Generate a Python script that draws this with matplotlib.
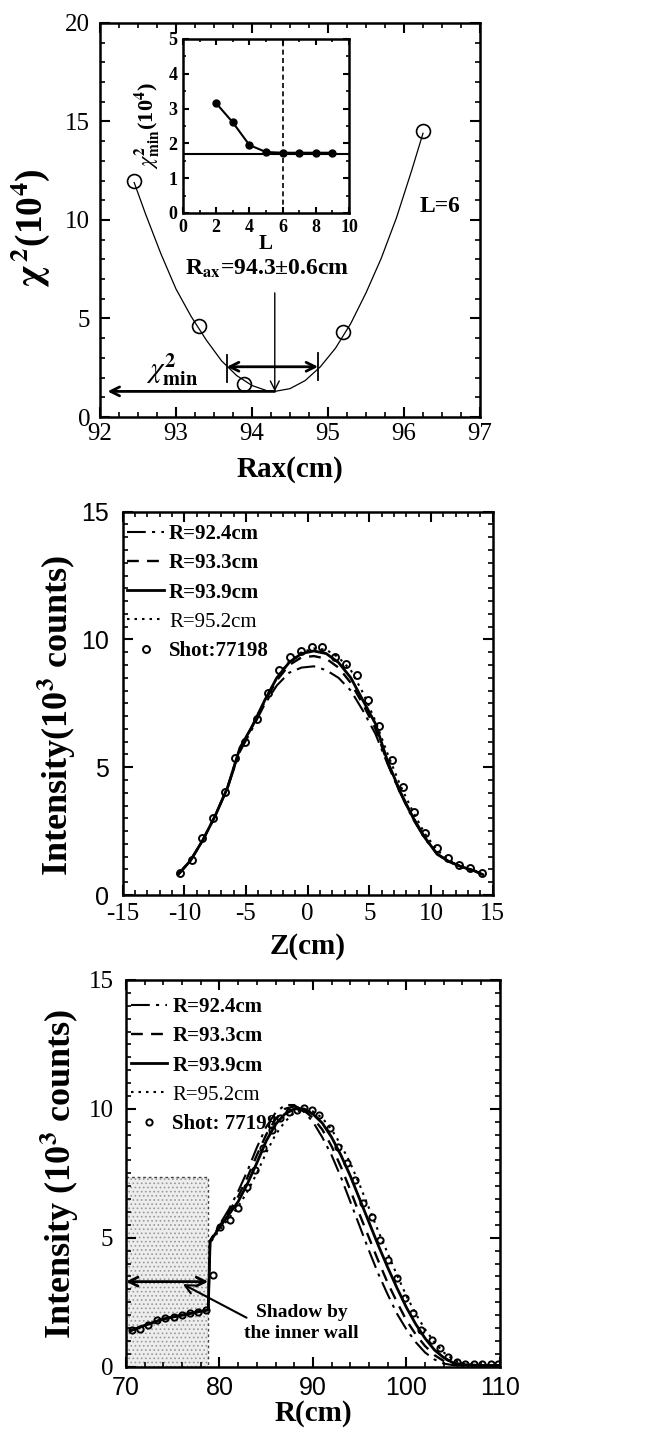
import matplotlib
matplotlib.use('Agg')
import matplotlib.pyplot as plt
from matplotlib.ticker import MultipleLocator
from matplotlib.patches import Rectangle

plt.rcParams['font.family'] = ['Liberation Serif', 'DejaVu Serif']
plt.rcParams['mathtext.fontset'] = 'stix'
plt.rcParams['axes.linewidth'] = 1.8
plt.rcParams['axes.unicode_minus'] = False
plt.rcParams['hatch.linewidth'] = 0.7

###############################################################################
# DATA
###############################################################################

# Top panel: chi-square scan over the magnetic axis position
RAX_SCAN = [92.45, 93.3, 93.9, 95.2, 96.25]
CHI2_SCAN = [12.0, 4.6, 1.7, 4.3, 14.5]
RAX_FIT = [92.45, 92.6, 92.8, 93.0, 93.2, 93.4, 93.6, 93.8, 94.0, 94.2, 94.3,
           94.5, 94.7, 94.9, 95.1, 95.3, 95.5, 95.7, 95.9, 96.1, 96.25]
CHI2_FIT = [11.9, 10.3, 8.3, 6.5, 5.1, 3.9, 2.85, 2.1, 1.6, 1.33, 1.3,
            1.44, 1.85, 2.55, 3.5, 4.75, 6.3, 8.05, 10.1, 12.5, 14.4]
RAX_BEST = 94.3
RAX_LO, RAX_HI = 93.67, 94.87
CHI2_MIN = 1.3

# Inset: minimum chi-square against number of terms L
L_TERMS = [2, 3, 4, 5, 6, 7, 8, 9]
CHI2_MIN_L = [3.15, 2.6, 1.95, 1.75, 1.73, 1.73, 1.73, 1.73]
CHI2_FLOOR = 1.7
L_CHOSEN = 6

# Legend labels shared by the two profile panels
FIT_LABELS = ['R=92.4cm', 'R=93.3cm', 'R=93.9cm', 'R=95.2cm']

# Middle panel: vertical profile
Z_DATA = [-10.35, -9.4, -8.6, -7.65, -6.7, -5.9, -5.08, -4.14, -3.2, -2.3,
          -1.43, -0.54, 0.38, 1.2, 2.2, 3.1, 4.0, 4.9, 5.8, 6.8, 7.7, 8.6,
          9.5, 10.5, 11.4, 12.3, 13.2, 14.1]
IZ_DATA = [0.85, 1.37, 2.22, 3.0, 4.04, 5.35, 6.0, 6.9, 7.9, 8.8, 9.33, 9.53,
           9.72, 9.69, 9.33, 9.05, 8.6, 7.63, 6.6, 5.3, 4.24, 3.26, 2.41,
           1.83, 1.43, 1.17, 1.04, 0.85]
Z_FIT = [-10.5, -9.5, -8.5, -7.5, -6.5, -5.5, -4.5, -3.5, -2.5, -1.5, -0.5,
         0.5, 1.5, 2.5, 3.5, 4.5, 5.5, 6.5, 7.5, 8.5, 9.5, 10.5, 11.5, 12.5,
         13.5, 14.2]
IZ_924 = [0.8, 1.35, 2.15, 3.1, 4.2, 5.6, 6.5, 7.45, 8.2, 8.7, 8.9, 8.95,
          8.8, 8.5, 8.0, 7.2, 6.3, 5.1, 4.0, 3.0, 2.2, 1.6, 1.3, 1.1, 0.95, 0.8]
IZ_933 = [0.8, 1.35, 2.15, 3.1, 4.2, 5.7, 6.6, 7.55, 8.4, 9.0, 9.3, 9.35,
          9.25, 8.9, 8.3, 7.45, 6.5, 5.15, 4.0, 3.05, 2.25, 1.6, 1.3, 1.1,
          0.95, 0.8]
IZ_939 = [0.8, 1.35, 2.15, 3.1, 4.2, 5.75, 6.6, 7.6, 8.5, 9.1, 9.45, 9.55,
          9.45, 9.1, 8.5, 7.6, 6.7, 5.2, 4.05, 3.07, 2.25, 1.6, 1.3, 1.1,
          0.95, 0.8]
IZ_952 = [0.8, 1.35, 2.15, 3.1, 4.2, 5.75, 6.6, 7.6, 8.5, 9.15, 9.5, 9.65,
          9.6, 9.3, 8.8, 7.9, 6.8, 5.5, 4.3, 3.3, 2.4, 1.75, 1.35, 1.1, 0.95,
          0.8]

# Bottom panel: radial profile
R_DATA = [70.6, 71.5, 72.4, 73.3, 74.2, 75.1, 76.0, 76.8, 77.7, 78.6, 79.3,
          80.05, 81.1, 82.0, 82.9, 83.8, 84.7, 85.6, 86.5, 87.4, 88.3, 89.1,
          89.9, 90.7, 91.8, 92.7, 93.6, 94.5, 95.4, 96.3, 97.2, 98.05, 98.95,
          99.8, 100.7, 101.6, 102.7, 103.6, 104.5, 105.4, 106.3, 107.2, 108.1,
          109.0, 109.8]
IR_DATA = [1.42, 1.47, 1.62, 1.81, 1.88, 1.94, 2.0, 2.07, 2.13, 2.2, 3.56,
           5.43, 5.69, 6.14, 6.98, 7.63, 8.47, 9.18, 9.63, 9.89, 9.96, 10.05,
           9.96, 9.76, 9.25, 8.53, 7.89, 7.24, 6.34, 5.82, 4.91, 4.14, 3.43,
           2.65, 2.07, 1.42, 1.04, 0.71, 0.39, 0.19, 0.1, 0.1, 0.1, 0.1, 0.1]
R_FIT = [70.5, 72, 74, 76, 78, 78.8, 79.0, 80, 81, 82, 83, 84, 85, 86, 87, 88,
         89, 90, 91, 92, 93, 94, 95, 96, 97, 98, 99, 100, 101, 102, 103, 104,
         105, 106, 108, 110]
IR_924 = [1.4, 1.6, 1.85, 2.0, 2.15, 2.2, 4.9, 5.5, 6.1, 6.8, 7.6, 8.5, 9.3,
          9.85, 10.15, 10.15, 9.9, 9.5, 8.9, 8.2, 7.35, 6.4, 5.45, 4.5, 3.6,
          2.8, 2.05, 1.45, 0.95, 0.55, 0.28, 0.12, 0.06, 0.05, 0.05, 0.05]
IR_933 = [1.4, 1.6, 1.85, 2.0, 2.15, 2.2, 4.85, 5.45, 6.0, 6.6, 7.35, 8.2,
          9.0, 9.6, 10.0, 10.1, 9.95, 9.65, 9.2, 8.55, 7.75, 6.85, 5.9, 5.0,
          4.1, 3.25, 2.5, 1.8, 1.25, 0.8, 0.45, 0.22, 0.1, 0.06, 0.05, 0.05]
IR_939 = [1.4, 1.6, 1.85, 2.0, 2.15, 2.2, 4.85, 5.4, 5.9, 6.4, 7.1, 7.9,
          8.75, 9.4, 9.8, 10.0, 10.0, 9.8, 9.45, 8.9, 8.2, 7.4, 6.5, 5.6, 4.7,
          3.85, 3.05, 2.3, 1.65, 1.1, 0.65, 0.35, 0.15, 0.08, 0.05, 0.05]
IR_952 = [1.4, 1.6, 1.85, 2.0, 2.15, 2.2, 4.8, 5.3, 5.75, 6.2, 6.8, 7.5, 8.3,
          9.0, 9.5, 9.85, 10.0, 9.9, 9.65, 9.2, 8.6, 7.9, 7.05, 6.15, 5.25,
          4.4, 3.55, 2.75, 2.05, 1.45, 0.95, 0.55, 0.28, 0.12, 0.06, 0.05]
SHADOW_R = (70.0, 78.8)
SHADOW_TOP = 7.35
SHADOW_ARROW_Y = 3.3

FIT_STYLES = [
    dict(linestyle=(0, (9, 3, 1.5, 3)), linewidth=1.5),
    dict(linestyle=(0, (5, 3.5)), linewidth=1.7),
    dict(linestyle='-', linewidth=2.0),
    dict(linestyle=(0, (1.2, 2.4)), linewidth=1.5),
]

SANS = ['Liberation Sans', 'DejaVu Sans']
SERIF = ['Liberation Serif', 'DejaVu Serif']


def style_axes(ax, xminor, yminor, size=18, xpad=4, ypad=7):
    ax.xaxis.set_minor_locator(MultipleLocator(xminor))
    ax.yaxis.set_minor_locator(MultipleLocator(yminor))
    ax.tick_params(which='both', direction='in', top=True, right=True,
                   labelsize=size)
    ax.tick_params(axis='x', pad=xpad)
    ax.tick_params(axis='y', pad=ypad)
    ax.tick_params(which='major', length=7, width=1.5)
    ax.tick_params(which='minor', length=3.5, width=1.2)


def set_tick_font(labels, family):
    for lab in labels:
        lab.set_fontfamily(family)


def profile_legend(ax, top=0.99):
    leg = ax.legend(loc='upper left', bbox_to_anchor=(-0.01, top),
                    frameon=False, handlelength=1.75, handletextpad=0.25,
                    labelspacing=0.45, borderaxespad=0.0,
                    prop=dict(family=SERIF, weight='bold', size=15))
    leg.get_texts()[3].set_fontweight('normal')
    return leg


fig = plt.figure(figsize=(6.56, 14.35), dpi=100)

###############################################################################
# TOP PANEL
###############################################################################
ax1 = fig.add_axes([0.1524, 0.7094, 0.5793, 0.2746])
ax1.plot(RAX_FIT, CHI2_FIT, color='black', linewidth=0.9)
ax1.plot(RAX_SCAN, CHI2_SCAN, 'o', mfc='none', mec='black', ms=10, mew=1.2)
ax1.set_xlim(92, 97)
ax1.set_ylim(0, 20)
ax1.set_xticks([92, 93, 94, 95, 96, 97])
ax1.set_yticks([0, 5, 10, 15, 20])
style_axes(ax1, 0.25, 1)
ax1.set_xlabel('Rax(cm)', fontsize=21, fontweight='bold')
ax1.xaxis.set_label_coords(0.5, -0.1)
ax1.set_ylabel(r'$\mathbf{\chi}^{\,\mathbf{2}}$(10$^{\mathbf{4}}$)',
               fontsize=27, fontweight='bold')
ax1.yaxis.set_label_coords(-0.125, 0.48)

# chi2_min level and best-fit position
ax1.annotate('', xy=(92.1, CHI2_MIN), xytext=(RAX_BEST, CHI2_MIN),
             arrowprops=dict(arrowstyle='->', color='black', lw=2,
                             mutation_scale=16, shrinkA=0, shrinkB=0))
ax1.annotate('', xy=(RAX_BEST, CHI2_MIN), xytext=(RAX_BEST, 6.3),
             arrowprops=dict(arrowstyle='->', color='black', lw=1,
                             mutation_scale=16, shrinkA=0, shrinkB=0))
ax1.annotate('', xy=(RAX_LO, 2.55), xytext=(RAX_HI, 2.55),
             arrowprops=dict(arrowstyle='<->', color='black', lw=2,
                             mutation_scale=16, shrinkA=0, shrinkB=0))
ax1.plot([RAX_LO, RAX_LO], [1.8, 3.15], color='black', lw=1.3)
ax1.plot([RAX_HI, RAX_HI], [1.9, 3.25], color='black', lw=1.3)
ax1.text(92.95, 2.4, r'$\chi^{\mathbf{2}}_{\mathbf{min}}$', fontsize=21,
         ha='center', va='center')
ax1.text(94.2, 7.5,
         r'R$_{\mathbf{ax}}$=%.1f±%.1fcm' % (RAX_BEST, (RAX_HI - RAX_LO) / 2),
         fontsize=17, fontweight='bold', ha='center', va='center')
ax1.text(96.47, 10.7, 'L=6', fontsize=17, fontweight='bold',
         ha='center', va='center')

# inset
axi = fig.add_axes([0.279, 0.8516, 0.253, 0.1213])
axi.axhline(CHI2_FLOOR, color='black', lw=1.5)
axi.axvline(L_CHOSEN, color='black', lw=1.2, linestyle=(0, (3, 2)))
axi.plot(L_TERMS, CHI2_MIN_L, '-o', color='black', ms=5, lw=1.5)
axi.set_xlim(0, 10)
axi.set_ylim(0, 5)
axi.set_xticks([0, 2, 4, 6, 8, 10])
axi.set_yticks([0, 1, 2, 3, 4, 5])
style_axes(axi, 1, 0.5, size=13, ypad=4)
axi.tick_params(which='major', length=4)
axi.tick_params(which='minor', length=2)
for lab in axi.get_xticklabels() + axi.get_yticklabels():
    lab.set_fontweight('bold')
axi.set_xlabel('L', fontsize=15, fontweight='bold')
axi.xaxis.set_label_coords(0.5, -0.12)
axi.set_ylabel(r'$\chi^{\mathbf{2}}_{\mathbf{min}}$(10$^{\mathbf{4}}$)',
               fontsize=16, fontweight='bold')
axi.yaxis.set_label_coords(-0.125, 0.5)

###############################################################################
# MIDDLE PANEL
###############################################################################
ax2 = fig.add_axes([0.187, 0.3763, 0.564, 0.2671])
for iz, lab, st in zip([IZ_924, IZ_933, IZ_939, IZ_952], FIT_LABELS,
                       FIT_STYLES):
    ax2.plot(Z_FIT, iz, color='black', label=lab, **st)
ax2.plot(Z_DATA, IZ_DATA, 'o', mfc='none', mec='black', ms=5, mew=1.4,
         label='Shot:77198')
ax2.set_xlim(-15, 15)
ax2.set_ylim(0, 15)
ax2.set_xticks([-15, -10, -5, 0, 5, 10, 15])
ax2.set_yticks([0, 5, 10, 15])
style_axes(ax2, 1, 0.5, xpad=6, ypad=10)
set_tick_font(ax2.get_yticklabels(), SANS)
ax2.set_xlabel('Z(cm)', fontsize=21, fontweight='bold')
ax2.xaxis.set_label_coords(0.5, -0.1)
ax2.set_ylabel(r'Intensity(10$^{\mathbf{3}}$ counts)', fontsize=26,
               fontweight='bold')
ax2.yaxis.set_label_coords(-0.12, 0.47)
profile_legend(ax2)

###############################################################################
# BOTTOM PANEL
###############################################################################
ax3 = fig.add_axes([0.192, 0.0476, 0.570, 0.2695])
shade = Rectangle((SHADOW_R[0], 0), SHADOW_R[1] - SHADOW_R[0], SHADOW_TOP,
                  facecolor='#ededed', edgecolor='#999999', hatch='....',
                  linewidth=0, zorder=0)
ax3.add_patch(shade)
ax3.plot([SHADOW_R[0], SHADOW_R[1], SHADOW_R[1]],
         [SHADOW_TOP, SHADOW_TOP, 0], color='#444444', lw=1,
         linestyle=(0, (2, 2)), zorder=1)
for ir, lab, st in zip([IR_924, IR_933, IR_939, IR_952], FIT_LABELS,
                       FIT_STYLES):
    ax3.plot(R_FIT, ir, color='black', label=lab, **st)
ax3.plot(R_DATA, IR_DATA, 'o', mfc='none', mec='black', ms=4.5, mew=1.4,
         label='Shot: 77198')
ax3.annotate('', xy=(SHADOW_R[0], SHADOW_ARROW_Y),
             xytext=(SHADOW_R[1], SHADOW_ARROW_Y),
             arrowprops=dict(arrowstyle='<->', color='black', lw=2,
                             mutation_scale=16, shrinkA=0, shrinkB=0))
ax3.annotate('', xy=(76.1, 3.2), xytext=(82.9, 1.9),
             arrowprops=dict(arrowstyle='->', color='black', lw=1.5,
                             mutation_scale=16, shrinkA=0, shrinkB=0))
ax3.text(88.8, 1.7, 'Shadow by\nthe inner wall', fontsize=14,
         fontweight='bold', ha='center', va='center', linespacing=1.35)
ax3.set_xlim(70, 110)
ax3.set_ylim(0, 15)
ax3.set_xticks([70, 80, 90, 100, 110])
ax3.set_yticks([0, 5, 10, 15])
style_axes(ax3, 2, 0.5, xpad=7, ypad=9)
set_tick_font(ax3.get_xticklabels(), SANS)
ax3.set_xlabel('R(cm)', fontsize=21, fontweight='bold')
ax3.xaxis.set_label_coords(0.5, -0.085)
ax3.set_ylabel(r'Intensity (10$^{\mathbf{3}}$ counts)', fontsize=26,
               fontweight='bold')
ax3.yaxis.set_label_coords(-0.12, 0.5)
profile_legend(ax3, top=0.978)

fig.savefig('out.png', dpi=100, facecolor='white')
